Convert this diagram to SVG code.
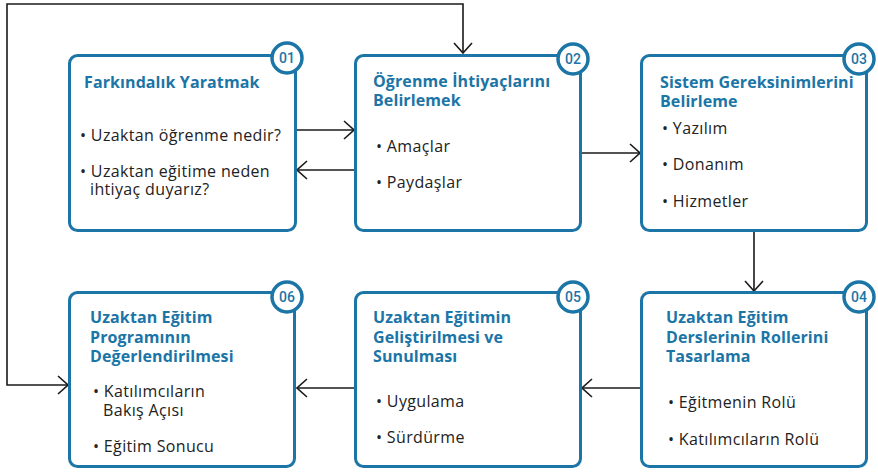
<svg xmlns="http://www.w3.org/2000/svg" width="878" height="476" viewBox="0 0 878 476">
<style>
.box{fill:#fff;stroke:#1b75a6;stroke-width:3}
.badge{fill:#fff;stroke:#1b75a6;stroke-width:3.5}
.num{font-family:Roboto,"Liberation Sans",sans-serif;font-weight:500;font-size:14px;fill:#1b75a6;text-anchor:middle}
.title{font-family:"Open Sans","Noto Sans",sans-serif;font-weight:700;font-size:16px;letter-spacing:0.1px;fill:#1b75a6}
.item{font-family:"Open Sans","Noto Sans",sans-serif;font-size:16px;letter-spacing:0.35px;fill:#222}
.conn{fill:none;stroke:#1a1a1a;stroke-width:1.6}
</style>
<defs>
<marker id="arr" markerUnits="userSpaceOnUse" viewBox="0 0 12 20" refX="11" refY="10" markerWidth="12" markerHeight="20" orient="auto-start-reverse">
<path d="M1,1 L11,10 L1,19" fill="none" stroke="#1a1a1a" stroke-width="1.6"/>
</marker>
</defs>
<g id="connectors">
<path class="conn" d="M296,130 H354" marker-end="url(#arr)"/>
<path class="conn" d="M355,170 H297" marker-end="url(#arr)"/>
<path class="conn" d="M581,153 H640" marker-end="url(#arr)"/>
<path class="conn" d="M754,232 V291" marker-end="url(#arr)"/>
<path class="conn" d="M642,388 H582" marker-end="url(#arr)"/>
<path class="conn" d="M355,388 H297" marker-end="url(#arr)"/>
<path class="conn" d="M68,385 H7 V4 H463 V53" marker-start="url(#arr)" marker-end="url(#arr)"/>
</g>
<g id="node1">
<rect class="box" x="69.5" y="55.5" width="226" height="175" rx="8"/>
<circle class="badge" cx="287" cy="58" r="15"/>
<text class="num" x="287" y="63">01</text>
<text class="title" x="84" y="88">Farkındalık Yaratmak</text>
<text class="item" x="80" y="141">• Uzaktan öğrenme nedir?</text>
<text class="item" x="80" y="177">• Uzaktan eğitime neden</text>
<text class="item" x="90" y="195">ihtiyaç duyarız?</text>
</g>
<g id="node2">
<rect class="box" x="355.5" y="55.5" width="225" height="175" rx="8"/>
<circle class="badge" cx="573" cy="59" r="15"/>
<text class="num" x="573" y="64">02</text>
<text class="title" x="373" y="87">Öğrenme İhtiyaçlarını</text>
<text class="title" x="373" y="106">Belirlemek</text>
<text class="item" x="376" y="152">• Amaçlar</text>
<text class="item" x="376" y="188">• Paydaşlar</text>
</g>
<g id="node3">
<rect class="box" x="641.5" y="55.5" width="225" height="175" rx="8"/>
<circle class="badge" cx="859" cy="59" r="15"/>
<text class="num" x="859" y="64">03</text>
<text class="title" x="660" y="88">Sistem Gereksinimlerini</text>
<text class="title" x="660" y="107">Belirleme</text>
<text class="item" x="662" y="134">• Yazılım</text>
<text class="item" x="662" y="170">• Donanım</text>
<text class="item" x="662" y="207">• Hizmetler</text>
</g>
<g id="node4">
<rect class="box" x="641.5" y="292.5" width="225" height="174" rx="8"/>
<circle class="badge" cx="859" cy="297" r="15"/>
<text class="num" x="859" y="302">04</text>
<text class="title" x="666" y="323">Uzaktan Eğitim</text>
<text class="title" x="666" y="343">Derslerinin Rollerini</text>
<text class="title" x="666" y="362">Tasarlama</text>
<text class="item" x="668" y="408">• Eğitmenin Rolü</text>
<text class="item" x="668" y="445">• Katılımcıların Rolü</text>
</g>
<g id="node5">
<rect class="box" x="355.5" y="292.5" width="225" height="174" rx="8"/>
<circle class="badge" cx="573" cy="297" r="15"/>
<text class="num" x="573" y="302">05</text>
<text class="title" x="373" y="323">Uzaktan Eğitimin</text>
<text class="title" x="373" y="343">Geliştirilmesi ve</text>
<text class="title" x="373" y="362">Sunulması</text>
<text class="item" x="376" y="407">• Uygulama</text>
<text class="item" x="376" y="443">• Sürdürme</text>
</g>
<g id="node6">
<rect class="box" x="69.5" y="292.5" width="225" height="174" rx="8"/>
<circle class="badge" cx="287" cy="297" r="15"/>
<text class="num" x="287" y="302">06</text>
<text class="title" x="90" y="323">Uzaktan Eğitim</text>
<text class="title" x="90" y="343">Programının</text>
<text class="title" x="90" y="362">Değerlendirilmesi</text>
<text class="item" x="93" y="397">• Katılımcıların</text>
<text class="item" x="103" y="416">Bakış Açısı</text>
<text class="item" x="93" y="452">• Eğitim Sonucu</text>
</g>
</svg>
